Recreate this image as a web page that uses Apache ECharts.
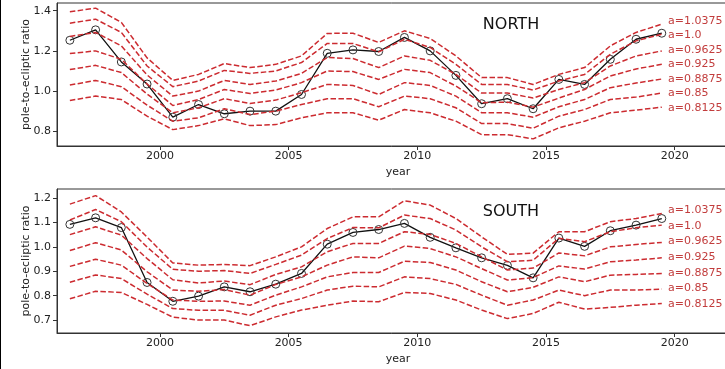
<!DOCTYPE html>
<html>
<head>
<meta charset="utf-8">
<script src="https://cdn.jsdelivr.net/npm/echarts@6/dist/echarts.min.js"></script>
<style>
html,body{margin:0;padding:0;background:#fff;}
#chart{width:725px;height:369px;}
</style>
</head>
<body>
<div id="chart"></div>
<script>
// ---------- data ----------
const years = [1996.5,1997.5,1998.5,1999.5,2000.5,2001.5,2002.5,2003.5,2004.5,2005.5,2006.5,2007.5,
               2008.5,2009.5,2010.5,2011.5,2012.5,2013.5,2014.5,2015.5,2016.5,2017.5,2018.5,2019.5];

const xTicks = [2000, 2005, 2010, 2015, 2020];
const northYTicks = [0.8, 1.0, 1.2, 1.4];
const southYTicks = [0.7, 0.8, 0.9, 1.0, 1.1, 1.2];
const aLabels = ['a=1.0375','a=1.0','a=0.9625','a=0.925','a=0.8875','a=0.85','a=0.8125'];

const northObs = [1.253,1.305,1.145,1.035,0.870,0.933,0.887,0.900,0.900,0.983,1.188,1.205,
                  1.197,1.267,1.200,1.078,0.937,0.962,0.912,1.058,1.033,1.158,1.258,1.288];
const southObs = [1.092,1.119,1.079,0.854,0.777,0.798,0.836,0.816,0.847,0.891,1.011,1.059,
                  1.071,1.096,1.039,0.996,0.955,0.924,0.873,1.036,1.002,1.066,1.089,1.116];

// NORTH model curves
const nA1_0375 = [1.395,1.413,1.342,1.165,1.053,1.083,1.137,1.117,1.133,1.175,1.287,1.288,1.242,1.300,1.262,1.175,1.067,1.067,1.033,1.083,1.117,1.225,1.292,1.333];
const nA1_0    = [1.338,1.358,1.292,1.125,1.022,1.050,1.103,1.088,1.100,1.142,1.237,1.237,1.195,1.258,1.217,1.133,1.033,1.033,1.005,1.050,1.083,1.183,1.250,1.283];
const nA0_9625 = [1.272,1.292,1.225,1.080,0.975,1.000,1.053,1.033,1.050,1.088,1.167,1.162,1.117,1.175,1.153,1.083,0.990,0.990,0.965,1.008,1.042,1.125,1.175,1.200];
const nA0_925  = [1.187,1.200,1.158,1.035,0.928,0.958,1.008,0.988,1.005,1.042,1.100,1.097,1.058,1.108,1.092,1.025,0.942,0.945,0.920,0.965,1.008,1.075,1.110,1.133];
const nA0_8875 = [1.107,1.128,1.092,0.985,0.892,0.917,0.962,0.938,0.955,0.992,1.033,1.028,0.983,1.042,1.028,0.975,0.892,0.892,0.870,0.922,0.958,1.017,1.040,1.060];
const nA0_85   = [1.030,1.053,1.022,0.930,0.850,0.867,0.912,0.883,0.900,0.933,0.962,0.962,0.922,0.975,0.962,0.917,0.838,0.838,0.815,0.875,0.908,0.958,0.970,0.990];
const nA0_8125 = [0.953,0.975,0.958,0.875,0.808,0.828,0.862,0.828,0.833,0.867,0.892,0.892,0.855,0.908,0.892,0.850,0.783,0.783,0.762,0.817,0.850,0.892,0.905,0.920];

// SOUTH model curves
const sA1_0375 = [1.175,1.210,1.143,1.040,0.934,0.925,0.928,0.923,0.959,1.000,1.075,1.123,1.123,1.189,1.171,1.116,1.041,0.969,0.974,1.062,1.062,1.103,1.116,1.137];
const sA1_0    = [1.110,1.153,1.103,0.999,0.908,0.900,0.903,0.891,0.928,0.966,1.034,1.079,1.078,1.130,1.116,1.069,1.000,0.939,0.945,1.035,1.021,1.062,1.078,1.089];
const sA0_9625 = [1.050,1.082,1.048,0.952,0.865,0.852,0.860,0.845,0.887,0.918,0.980,1.014,1.014,1.062,1.051,1.014,0.959,0.905,0.913,0.975,0.963,1.000,1.010,1.018];
const sA0_925  = [0.985,1.017,0.987,0.898,0.823,0.818,0.825,0.802,0.846,0.877,0.925,0.959,0.955,1.003,0.993,0.959,0.911,0.864,0.874,0.922,0.909,0.939,0.946,0.955];
const sA0_8875 = [0.920,0.949,0.925,0.850,0.782,0.777,0.778,0.761,0.802,0.836,0.877,0.895,0.895,0.941,0.936,0.905,0.857,0.816,0.834,0.877,0.857,0.884,0.887,0.891];
const sA0_85   = [0.855,0.885,0.870,0.806,0.747,0.740,0.740,0.720,0.761,0.788,0.823,0.839,0.836,0.877,0.870,0.846,0.802,0.761,0.782,0.823,0.800,0.823,0.823,0.827];
const sA0_8125 = [0.787,0.818,0.813,0.764,0.712,0.700,0.700,0.677,0.713,0.741,0.761,0.778,0.775,0.813,0.809,0.782,0.741,0.706,0.727,0.773,0.745,0.752,0.761,0.768];

const northModels = [nA1_0375, nA1_0, nA0_9625, nA0_925, nA0_8875, nA0_85, nA0_8125];
const southModels = [sA1_0375, sA1_0, sA0_9625, sA0_925, sA0_8875, sA0_85, sA0_8125];

// ---------- styling ----------
const FONT = 'DejaVu Sans';
const INK = '#222';
const RED = '#cc2b30';
const LABEL_RED = '#c23d3d';

function pairs(vals){ return years.map((y,i)=>[y, vals[i]]); }

function xAxisCfg(gi){
  return {
    type:'value', gridIndex:gi, min:1996, max:2022.5,
    name:'year', nameLocation:'middle', nameGap:21, nameMoveOverlap:false,
    nameTextStyle:{fontFamily:FONT,fontSize:11,color:INK},
    axisLine:{show:true,lineStyle:{color:'#333',width:1}},
    axisTick:{show:true,length:4,customValues:xTicks,lineStyle:{color:'#333'}},
    axisLabel:{customValues:xTicks,formatter:v=>String(v),fontFamily:FONT,fontSize:11,color:INK,margin:5,hideOverlap:false},
    splitLine:{show:false}
  };
}
function yAxisCfg(gi,min,max,ticks){
  return {
    type:'value', gridIndex:gi, min:min, max:max,
    name:'pole-to-ecliptic ratio', nameLocation:'middle', nameGap:25, nameMoveOverlap:false,
    nameTextStyle:{fontFamily:FONT,fontSize:11,color:INK},
    axisLine:{show:true,lineStyle:{color:'#333',width:1}},
    axisTick:{show:true,length:4,customValues:ticks,lineStyle:{color:'#333'}},
    axisLabel:{customValues:ticks,formatter:v=>v.toFixed(1),fontFamily:FONT,fontSize:11,color:INK,margin:6},
    splitLine:{show:false}
  };
}

const series = [];
function addPanel(gi, obs, models){
  series.push({
    type:'line', xAxisIndex:gi, yAxisIndex:gi, data:pairs(obs),
    symbol:'circle', symbolSize:8, showAllSymbol:true,
    lineStyle:{color:'#111',width:1.3},
    itemStyle:{color:'rgba(0,0,0,0)',borderColor:'#333',borderWidth:1},
    animation:false, silent:true, z:2
  });
  models.forEach(m=>{
    series.push({
      type:'line', xAxisIndex:gi, yAxisIndex:gi, data:pairs(m),
      symbol:'none', lineStyle:{color:RED,width:1.5,type:[5.5,2.4]},
      animation:false, silent:true, z:3
    });
  });
}
addPanel(0, northObs, northModels);
addPanel(1, southObs, southModels);

const graphics = [
  {type:'line',shape:{x1:0.5,y1:0,x2:0.5,y2:369},style:{stroke:'#000',lineWidth:1}},
  {type:'text',x:511,y:25,style:{text:'NORTH',font:'16px "DejaVu Sans"',fill:'#111',textAlign:'center',textVerticalAlign:'middle'}},
  {type:'text',x:511,y:212,style:{text:'SOUTH',font:'16px "DejaVu Sans"',fill:'#111',textAlign:'center',textVerticalAlign:'middle'}}
];
aLabels.forEach((t,i)=>{
  graphics.push({type:'text',x:668,y:21+i*14.5,style:{text:t,font:'11px "DejaVu Sans"',fill:LABEL_RED,textAlign:'left',textVerticalAlign:'middle'}});
  graphics.push({type:'text',x:668,y:210+i*15.7,style:{text:t,font:'11px "DejaVu Sans"',fill:LABEL_RED,textAlign:'left',textVerticalAlign:'middle'}});
});

const chart = echarts.init(document.getElementById('chart'), null, {renderer:'canvas'});
chart.setOption({
  animation:false,
  backgroundColor:'#fff',
  grid:[
    {left:57, width:682, top:3, height:143, outerBoundsMode:'none', containLabel:false, show:true, borderColor:'#333', borderWidth:1, backgroundColor:'transparent'},
    {left:57, width:682, top:189, height:144, outerBoundsMode:'none', containLabel:false, show:true, borderColor:'#333', borderWidth:1, backgroundColor:'transparent'}
  ],
  xAxis:[xAxisCfg(0), xAxisCfg(1)],
  yAxis:[yAxisCfg(0,0.7265,1.4385,northYTicks), yAxisCfg(1,0.647,1.237,southYTicks)],
  series:series,
  graphic:graphics
});
</script>
</body>
</html>
